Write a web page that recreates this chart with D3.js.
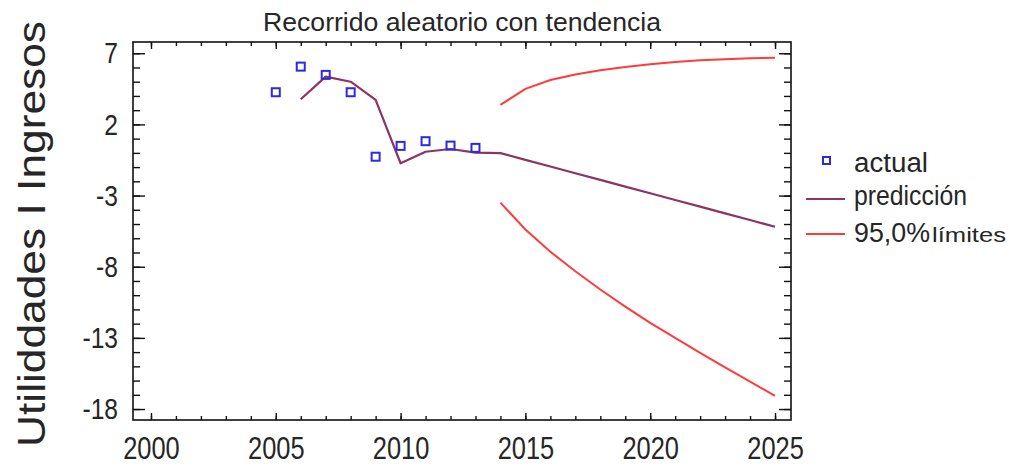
<!DOCTYPE html>
<html>
<head>
<meta charset="utf-8">
<script src="https://cdn.jsdelivr.net/npm/d3@7"></script>
<style>
  html, body { margin: 0; padding: 0; background: #fff; }
  svg { display: block; font-family: "Liberation Sans", Arial, sans-serif; }
</style>
</head>
<body>
<svg id="chart" width="1012" height="468"></svg>
<script>
// Observed series
const actualYears = [2005, 2006, 2007, 2008, 2009, 2010, 2011, 2012, 2013];
const actualValues = [4.26, 6.06, 5.48, 4.26, -0.27, 0.49, 0.82, 0.51, 0.35];

// One-step and forecast predictions
const predYears = [2006, 2007, 2008, 2009, 2010, 2011, 2012, 2013, 2014, 2015,
                   2016, 2017, 2018, 2019, 2020, 2021, 2022, 2023, 2024, 2025];
const predValues = [3.77, 5.36, 5.0, 3.72, -0.73, 0.08, 0.27, 0.02, -0.02, -0.49,
                    -0.96, -1.43, -1.9, -2.37, -2.84, -3.31, -3.78, -4.25, -4.72, -5.19];

// 95% forecast limits
const limitYears = [2014, 2015, 2016, 2017, 2018, 2019, 2020, 2021, 2022, 2023, 2024, 2025];
const upperValues = [3.37, 4.5, 5.12, 5.5, 5.8, 6.04, 6.22, 6.38, 6.5, 6.58, 6.64, 6.68];
const lowerValues = [-3.5, -5.38, -6.95, -8.32, -9.6, -10.8, -11.95, -13.0, -14.05, -15.07, -16.07, -17.08];

// Axis ticks
const xTicks = [2000, 2005, 2010, 2015, 2020, 2025];
const xMinorTicks = d3.range(2000, 2026);
const yTicks = [7, 2, -3, -8, -13, -18];
const yMinorTicks = d3.range(-18, 8);

const title = "Recorrido aleatorio con tendencia";
const yLabel = "Utiliddades I Ingresos";
const legendLabels = ["actual", "predicción", "95,0%", "límites"];

const COL_ACTUAL = "#2a2ae0";
const COL_PRED = "#8c3462";
const COL_LIMIT = "#ff3b3b";
const COL_TEXT = "#262626";

const svg = d3.select("#chart");
const plotLeft = 133, plotRight = 791, plotTop = 42, plotBottom = 420;

const x = d3.scaleLinear().domain([1999.28, 2025.64]).range([plotLeft, plotRight]);
const y = d3.scaleLinear().domain([-18.77, 7.79]).range([plotBottom, plotTop]);

// squeeze a text element horizontally to a given share of its natural width
function squeeze(sel, factor) {
  sel.each(function () {
    const w = this.getComputedTextLength();
    d3.select(this).attr("textLength", w * factor).attr("lengthAdjust", "spacingAndGlyphs");
  });
}

// Title
svg.append("text")
  .attr("x", 462).attr("y", 31)
  .attr("text-anchor", "middle")
  .attr("font-size", 25).attr("fill", COL_TEXT)
  .attr("textLength", 398).attr("lengthAdjust", "spacingAndGlyphs")
  .text(title);

// Y axis title
svg.append("text")
  .attr("transform", "rotate(-90)")
  .attr("x", -234).attr("y", 45)
  .attr("text-anchor", "middle")
  .attr("font-size", 39).attr("fill", COL_TEXT)
  .attr("textLength", 426).attr("lengthAdjust", "spacingAndGlyphs")
  .text(yLabel);

// Minor ticks (inward on all four sides)
svg.append("g").attr("transform", `translate(0,${plotBottom})`)
  .call(d3.axisBottom(x).tickValues(xMinorTicks).tickSize(-4).tickFormat(""));
svg.append("g").attr("transform", `translate(0,${plotTop})`)
  .call(d3.axisTop(x).tickValues(xMinorTicks).tickSize(-4).tickFormat(""));
svg.append("g").attr("transform", `translate(${plotLeft},0)`)
  .call(d3.axisLeft(y).tickValues(yMinorTicks).tickSize(-7).tickFormat(""));
svg.append("g").attr("transform", `translate(${plotRight},0)`)
  .call(d3.axisRight(y).tickValues(yMinorTicks).tickSize(-7).tickFormat(""));

// Major ticks and labels
const xAxis = svg.append("g").attr("transform", `translate(0,${plotBottom})`)
  .call(d3.axisBottom(x).tickValues(xTicks).tickSizeInner(-7).tickSizeOuter(0)
        .tickPadding(17).tickFormat(d => String(d)));
svg.append("g").attr("transform", `translate(0,${plotTop})`)
  .call(d3.axisTop(x).tickValues(xTicks).tickSizeInner(-7).tickSizeOuter(0).tickFormat(""));
const yAxis = svg.append("g").attr("transform", `translate(${plotLeft},0)`)
  .call(d3.axisLeft(y).tickValues(yTicks).tickSizeInner(-12).tickSizeOuter(0)
        .tickPadding(15).tickFormat(d => String(d)));
svg.append("g").attr("transform", `translate(${plotRight},0)`)
  .call(d3.axisRight(y).tickValues(yTicks).tickSizeInner(-12).tickSizeOuter(0).tickFormat(""));

svg.selectAll(".domain").remove();
svg.selectAll(".tick line").attr("stroke", "#111").attr("stroke-width", 1.4);

xAxis.selectAll("text").attr("font-size", 31).attr("font-family", "Liberation Sans, Arial, sans-serif")
  .attr("fill", COL_TEXT).call(squeeze, 0.82);
yAxis.selectAll("text").attr("font-size", 30).attr("font-family", "Liberation Sans, Arial, sans-serif")
  .attr("fill", COL_TEXT).call(squeeze, 0.82);

// Frame
svg.append("rect")
  .attr("x", plotLeft).attr("y", plotTop)
  .attr("width", plotRight - plotLeft).attr("height", plotBottom - plotTop)
  .attr("fill", "none").attr("stroke", "#111").attr("stroke-width", 1.6);

const line = d3.line().x(d => x(d[0])).y(d => y(d[1]));

// Forecast limits
svg.append("path")
  .datum(limitYears.map((yr, i) => [yr, upperValues[i]]))
  .attr("d", line).attr("fill", "none").attr("stroke", COL_LIMIT).attr("stroke-width", 2);
svg.append("path")
  .datum(limitYears.map((yr, i) => [yr, lowerValues[i]]))
  .attr("d", line).attr("fill", "none").attr("stroke", COL_LIMIT).attr("stroke-width", 2);

// Predictions
svg.append("path")
  .datum(predYears.map((yr, i) => [yr, predValues[i]]))
  .attr("d", line).attr("fill", "none").attr("stroke", COL_PRED).attr("stroke-width", 2.2)
  .attr("stroke-linejoin", "round");

// Actual values as hollow squares
svg.append("g").selectAll("rect")
  .data(actualYears.map((yr, i) => [yr, actualValues[i]]))
  .join("rect")
  .attr("x", d => x(d[0]) - 4).attr("y", d => y(d[1]) - 4)
  .attr("width", 8).attr("height", 8)
  .attr("fill", "none").attr("stroke", COL_ACTUAL).attr("stroke-width", 2);

// Legend
const lg = svg.append("g").attr("fill", COL_TEXT);
lg.append("rect").attr("x", 823).attr("y", 157).attr("width", 7).attr("height", 7)
  .attr("fill", "none").attr("stroke", COL_ACTUAL).attr("stroke-width", 2);
lg.append("text").attr("x", 854).attr("y", 172).attr("font-size", 27)
  .attr("textLength", 74).attr("lengthAdjust", "spacingAndGlyphs").text(legendLabels[0]);

lg.append("line").attr("x1", 806).attr("x2", 845).attr("y1", 199).attr("y2", 199)
  .attr("stroke", COL_PRED).attr("stroke-width", 2.2);
lg.append("text").attr("x", 854).attr("y", 205).attr("font-size", 27)
  .attr("textLength", 113).attr("lengthAdjust", "spacingAndGlyphs").text(legendLabels[1]);

lg.append("line").attr("x1", 806).attr("x2", 845).attr("y1", 234).attr("y2", 234)
  .attr("stroke", COL_LIMIT).attr("stroke-width", 2);
lg.append("text").attr("x", 854).attr("y", 242).attr("font-size", 27)
  .attr("textLength", 76).attr("lengthAdjust", "spacingAndGlyphs").text(legendLabels[2]);
lg.append("text").attr("x", 932).attr("y", 242).attr("font-size", 21)
  .attr("textLength", 74).attr("lengthAdjust", "spacingAndGlyphs").text(legendLabels[3]);
</script>
</body>
</html>
